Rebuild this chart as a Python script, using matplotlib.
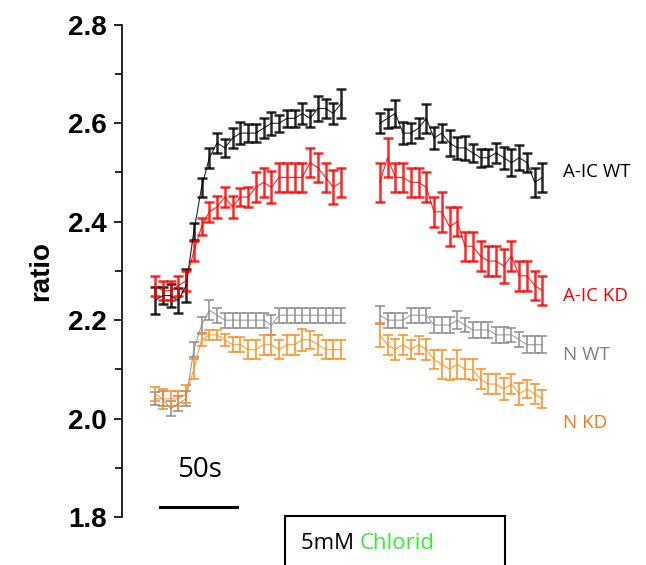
import matplotlib.pyplot as plt
from matplotlib.patches import Rectangle
from matplotlib.transforms import offset_copy

# time points (s) of the two recording segments
time_a = [0, 5, 10, 15, 20, 25, 30, 35, 40, 45, 50, 55, 60, 65, 70, 75, 80, 85, 90,
          95, 100, 105, 110, 115, 120]
time_b = [145, 150, 155, 160, 165, 170, 175, 180, 185, 190, 195, 200, 205, 210, 215,
          220, 225, 230, 235, 240, 245, 250]

# A-IC WT
aic_wt_a = [2.24, 2.25, 2.25, 2.24, 2.27, 2.38, 2.47, 2.53, 2.56, 2.55, 2.57, 2.58, 2.58,
            2.58, 2.59, 2.60, 2.60, 2.61, 2.61, 2.62, 2.61, 2.63, 2.63, 2.62, 2.64]
aic_wt_a_err = [0.028, 0.018, 0.023, 0.025, 0.033, 0.018, 0.019, 0.02, 0.02, 0.018, 0.02,
                0.022, 0.018, 0.018, 0.02, 0.023, 0.017, 0.018, 0.018, 0.022, 0.018,
                0.025, 0.02, 0.022, 0.03]
aic_wt_b = [2.60, 2.61, 2.62, 2.58, 2.58, 2.59, 2.61, 2.57, 2.58, 2.56, 2.55, 2.55, 2.54,
            2.53, 2.53, 2.54, 2.53, 2.52, 2.53, 2.52, 2.48, 2.49]
aic_wt_b_err = [0.02, 0.02, 0.028, 0.023, 0.02, 0.02, 0.03, 0.023, 0.018, 0.027, 0.022,
                0.025, 0.018, 0.018, 0.017, 0.02, 0.022, 0.028, 0.025, 0.02, 0.03, 0.03]

# A-IC KD
aic_kd_a = [2.27, 2.26, 2.26, 2.27, 2.28, 2.34, 2.39, 2.42, 2.43, 2.45, 2.43, 2.45, 2.45,
            2.47, 2.48, 2.47, 2.49, 2.49, 2.49, 2.49, 2.52, 2.51, 2.49, 2.47, 2.48]
aic_kd_a_err = [0.02, 0.02, 0.02, 0.02, 0.02, 0.02, 0.018, 0.02, 0.022, 0.02, 0.022, 0.018,
                0.02, 0.03, 0.03, 0.033, 0.03, 0.03, 0.03, 0.03, 0.03, 0.03, 0.03, 0.035,
                0.03]
aic_kd_b = [2.48, 2.53, 2.49, 2.49, 2.48, 2.48, 2.47, 2.42, 2.42, 2.39, 2.40, 2.35, 2.35,
            2.33, 2.32, 2.32, 2.31, 2.33, 2.29, 2.29, 2.27, 2.26]
aic_kd_b_err = [0.04, 0.04, 0.03, 0.03, 0.03, 0.03, 0.03, 0.03, 0.04, 0.04, 0.03, 0.03,
                0.03, 0.03, 0.03, 0.03, 0.035, 0.03, 0.03, 0.03, 0.03, 0.03]

# N WT
n_wt_a = [2.04, 2.04, 2.02, 2.03, 2.04, 2.14, 2.19, 2.22, 2.21, 2.20, 2.20, 2.20, 2.20,
          2.20, 2.20, 2.19, 2.21, 2.21, 2.21, 2.21, 2.21, 2.21, 2.21, 2.21, 2.21]
n_wt_b = [2.21, 2.20, 2.20, 2.20, 2.21, 2.21, 2.21, 2.19, 2.19, 2.19, 2.20, 2.19, 2.18,
          2.18, 2.18, 2.17, 2.17, 2.17, 2.16, 2.15, 2.15, 2.15]
n_wt_a_err = [0.013, 0.015, 0.015, 0.015, 0.015, 0.015, 0.017, 0.02, 0.015, 0.015, 0.015,
              0.015, 0.015, 0.015, 0.015, 0.02, 0.015, 0.015, 0.015, 0.015, 0.015, 0.015,
              0.015, 0.015, 0.015]
n_wt_b_err = [0.018, 0.015, 0.015, 0.015, 0.015, 0.015, 0.015, 0.017, 0.017, 0.017, 0.018,
              0.015, 0.017, 0.017, 0.017, 0.017, 0.017, 0.015, 0.015, 0.017, 0.017, 0.017]

# N KD
n_kd_a = [2.05, 2.04, 2.04, 2.04, 2.05, 2.10, 2.16, 2.17, 2.17, 2.16, 2.15, 2.15, 2.14,
          2.14, 2.15, 2.15, 2.14, 2.15, 2.15, 2.16, 2.16, 2.15, 2.14, 2.14, 2.14]
n_kd_b = [2.17, 2.15, 2.14, 2.15, 2.14, 2.15, 2.14, 2.12, 2.11, 2.10, 2.11, 2.10, 2.10,
          2.08, 2.07, 2.07, 2.06, 2.07, 2.05, 2.06, 2.05, 2.04]
n_kd_a_err = [0.015, 0.02, 0.015, 0.015, 0.018, 0.02, 0.012, 0.01, 0.01, 0.012, 0.015,
              0.015, 0.02, 0.02, 0.02, 0.02, 0.02, 0.02, 0.02, 0.022, 0.018, 0.02, 0.02,
              0.02, 0.02]
n_kd_b_err = [0.025, 0.02, 0.022, 0.02, 0.02, 0.018, 0.022, 0.02, 0.03, 0.022, 0.03, 0.02,
              0.022, 0.02, 0.02, 0.02, 0.022, 0.02, 0.023, 0.018, 0.02, 0.018]

series = [
    ("A-IC WT", aic_wt_a, aic_wt_a_err, aic_wt_b, aic_wt_b_err, "#000000", "#000000", 2.50, 1.8),
    ("A-IC KD", aic_kd_a, aic_kd_a_err, aic_kd_b, aic_kd_b_err, "#ff0000", "#ff0000", 2.25, 1.8),
    ("N WT", n_wt_a, n_wt_a_err, n_wt_b, n_wt_b_err, "#8c8c8c", "#7f7f7f", 2.13, 1.3),
    ("N KD", n_kd_a, n_kd_a_err, n_kd_b, n_kd_b_err, "#ff8c1a", "#ee7a1e", 1.99, 1.3),
]

fig = plt.figure(figsize=(6.46, 5.65), dpi=100)
ax = fig.add_axes([0.189, 0.085, 0.811, 0.871])

for name, ya, ea, yb, eb, color, tcolor, ylab, ew in series:
    for t, y, e in [(time_a, ya, ea), (time_b, yb, eb)]:
        ax.errorbar(t, y, yerr=e, fmt="-", color=color, lw=0.8, alpha=0.85,
                    elinewidth=ew, capsize=3.5, capthick=ew, ecolor=color)
    ax.text(263, ylab, name, color=tcolor, fontsize=13.5, family="Open Sans",
            va="center", ha="left")

ax.set_xlim(-21.3, 316.8)
ax.set_ylim(1.8, 2.8)
ax.set_yticks([1.8, 2.0, 2.2, 2.4, 2.6, 2.8])
ax.set_yticks([1.9, 2.1, 2.3, 2.5, 2.7], minor=True)
ax.set_yticklabels(["1.8", "2.0", "2.2", "2.4", "2.6", "2.8"],
                   fontsize=20, fontweight="bold", family="Liberation Sans")
ax.tick_params(axis="y", which="major", length=6, width=1.2, pad=5)
ax.tick_params(axis="y", which="minor", length=5, width=1.2)
ax.set_xticks([])
for s in ["top", "right", "bottom"]:
    ax.spines[s].set_visible(False)
ax.spines["left"].set_linewidth(1.2)
ax.set_ylabel("ratio", fontsize=20, fontweight="bold", family="Liberation Sans",
              labelpad=10)

# scale bar
ax.plot([3, 53], [1.82, 1.82], color="black", lw=2.2, clip_on=False)
ax.text(29, 1.895, "50s", fontsize=20, family="Open Sans", ha="center", va="center")

# stimulus box
ax.add_patch(Rectangle((84, 1.70), 142, 0.102, fill=False, lw=1.5,
                       edgecolor="black", clip_on=False))
t1 = ax.text(94, 1.747, "5mM ", fontsize=16, family="Open Sans", va="center", ha="left")
fig.canvas.draw()
w = t1.get_window_extent().width
ax.text(94, 1.747, "Chlorid", fontsize=16, family="Open Sans", va="center",
        ha="left", color="#33ee33",
        transform=offset_copy(ax.transData, fig=fig, x=w, y=0, units="dots"))

plt.savefig("out.png", dpi=100)
